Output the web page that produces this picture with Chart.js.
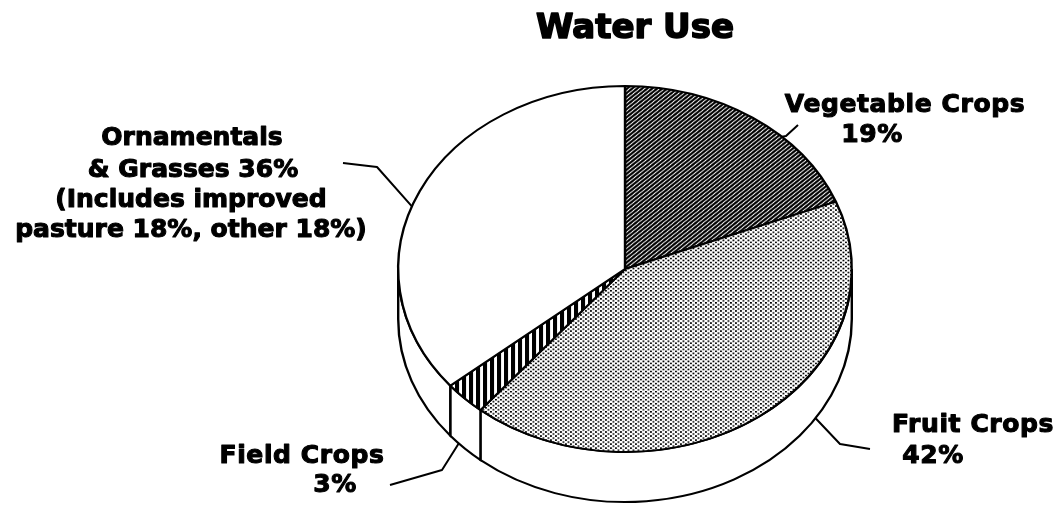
<!DOCTYPE html>
<html>
<head>
<meta charset="utf-8">
<script src="https://cdn.jsdelivr.net/npm/chart.js@4"></script>
<style>
  html, body { margin: 0; padding: 0; background: #fff; }
  #wrap { width: 1062px; height: 507px; position: relative; }
</style>
</head>
<body>
<div id="wrap"><canvas id="waterChart"></canvas></div>
<script>
// ── Data ──────────────────────────────────────────────────────────────────────
const categories = ["Vegetable Crops", "Fruit Crops", "Field Crops", "Ornamentals & Grasses"];
const shares     = [19, 42, 3, 36];   // percent of water use
const labelLines = [
  ["Vegetable Crops", "19%"],
  ["Fruit Crops", "42%"],
  ["Field Crops", "3%"],
  ["Ornamentals", "& Grasses 36%", "(Includes improved", "pasture 18%, other 18%)"],
];
const chartTitle = "Water Use";

// ── Look ──────────────────────────────────────────────────────────────────────
const TILT  = 0.807;   // vertical squash of the pie top
const DEPTH = 50;      // side wall height, px
const FONT  = "'DejaVu Sans', 'Liberation Sans', sans-serif";

function makePattern(kind) {
  const c = document.createElement("canvas");
  const p = c.getContext("2d");
  if (kind === "hatch") {
    c.width = c.height = 5;
    p.fillStyle = "#000"; p.fillRect(0, 0, 5, 5);
    p.strokeStyle = "#fff"; p.lineWidth = 1.1;
    p.beginPath();
    p.moveTo(0, 5); p.lineTo(5, 0);
    p.moveTo(-1, 1); p.lineTo(1, -1);
    p.moveTo(4, 6); p.lineTo(6, 4);
    p.stroke();
  } else if (kind === "dots") {
    c.width = c.height = 5;
    p.fillStyle = "#fff"; p.fillRect(0, 0, 5, 5);
    p.fillStyle = "#000";
    p.fillRect(0, 0, 1.9, 1.9);
    p.fillRect(2.5, 2.5, 1.9, 1.9);
  } else if (kind === "stripes") {
    c.width = 7; c.height = 7;
    p.fillStyle = "#fff"; p.fillRect(0, 0, 7, 7);
    p.fillStyle = "#000"; p.fillRect(0, 0, 4, 7);
  } else {
    c.width = c.height = 2;
    p.fillStyle = "#fff"; p.fillRect(0, 0, 2, 2);
  }
  return p.createPattern(c, "repeat");
}

const fills = [makePattern("hatch"), makePattern("dots"), makePattern("stripes"), makePattern("plain")];

// label placement: slice fraction for the leader anchor, top or side edge,
// then leader bend/end points and text line centres + baselines
const labelLayout = [
  { frac: 0.64, side: false, path: [[786, 136], [798, 125]], lines: [[905, 112], [872, 142]], spacing: "0.6px" },
  { frac: 0.36, side: true,  path: [[840, 444], [870, 449]], lines: [[973, 432], [933, 463]], spacing: "0.6px" },
  { frac: 0.70, side: true,  path: [[442, 470], [390, 485]], lines: [[302, 463], [335, 492]], spacing: "0.6px" },
  { frac: 0.46, side: false, path: [[377, 167], [343, 163]], lines: [[192, 145], [193, 177], [191, 207], [191, 237]], spacing: "0px" },
];

// heavy text: fill plus a thin stroke to get the black-weight look
function heavyText(ctx, txt, x, y, w) {
  ctx.lineWidth = w;
  ctx.strokeText(txt, x, y);
  ctx.fillText(txt, x, y);
}

// ── 3D pie plugin ─────────────────────────────────────────────────────────────
const pie3d = {
  id: "pie3d",
  beforeDatasetsDraw(chart) {
    const arcs = chart.getDatasetMeta(0).data;
    if (!arcs.length) return;
    const { x: cx, y: cy, outerRadius: r } = arcs[0];
    const ctx = chart.ctx;
    const dz = DEPTH / TILT;

    ctx.save();
    ctx.translate(cx, cy);
    ctx.scale(1, TILT);
    ctx.translate(-cx, -cy);

    // side wall: only the front half (angles 0..PI) is visible
    ctx.lineWidth = 2.4;
    ctx.strokeStyle = "#000";
    ctx.fillStyle = "#fff";
    arcs.forEach((arc) => {
      const lo = Math.max(arc.startAngle, 0), hi = Math.min(arc.endAngle, Math.PI);
      if (hi <= lo) return;
      ctx.beginPath();
      ctx.arc(cx, cy, r, lo, hi);
      ctx.arc(cx, cy + dz, r, hi, lo, true);
      ctx.closePath();
      ctx.fill();
      ctx.stroke();
    });
  },
  afterDatasetsDraw(chart) {
    const ctx = chart.ctx;
    ctx.restore();

    const arcs = chart.getDatasetMeta(0).data;
    if (!arcs.length) return;
    const { x: cx, y: cy, outerRadius: r } = arcs[0];

    // leader lines
    ctx.save();
    ctx.strokeStyle = "#000";
    ctx.lineWidth = 2;
    ctx.lineJoin = "round";
    arcs.forEach((arc, i) => {
      const L = labelLayout[i];
      const ang = arc.startAngle + (arc.endAngle - arc.startAngle) * L.frac;
      const ax = cx + r * Math.cos(ang);
      const ay = cy + r * Math.sin(ang) * TILT + (L.side ? DEPTH : 0);
      ctx.beginPath();
      ctx.moveTo(ax, ay);
      L.path.forEach(([px, py]) => ctx.lineTo(px, py));
      ctx.stroke();
    });

    // labels
    ctx.fillStyle = "#000";
    ctx.strokeStyle = "#000";
    ctx.lineJoin = "round";
    ctx.textAlign = "center";
    ctx.textBaseline = "alphabetic";
    ctx.font = "bold 25px " + FONT;
    labelLines.forEach((lines, i) => {
      const L = labelLayout[i];
      ctx.letterSpacing = L.spacing;
      lines.forEach((txt, j) => {
        const [tx, ty] = L.lines[j];
        heavyText(ctx, txt, tx, ty, 1.1);
      });
    });

    // title
    ctx.letterSpacing = "0px";
    ctx.font = "bold 34px " + FONT;
    heavyText(ctx, chartTitle, cx + 10, 38, 1.6);
    ctx.restore();
  },
};

// ── Chart ─────────────────────────────────────────────────────────────────────
new Chart(document.getElementById("waterChart"), {
  type: "pie",
  data: {
    labels: categories,
    datasets: [{
      data: shares,
      backgroundColor: fills,
      borderColor: "#000",
      borderWidth: 2.4,
      borderAlign: "center",
    }],
  },
  options: {
    responsive: true,
    maintainAspectRatio: false,
    animation: false,
    events: [],
    layout: { padding: { left: 397, right: 209, top: 41, bottom: 10 } },
    plugins: {
      legend: { display: false },
      tooltip: { enabled: false },
      title: { display: false },
    },
  },
  plugins: [pie3d],
});
</script>
</body>
</html>
